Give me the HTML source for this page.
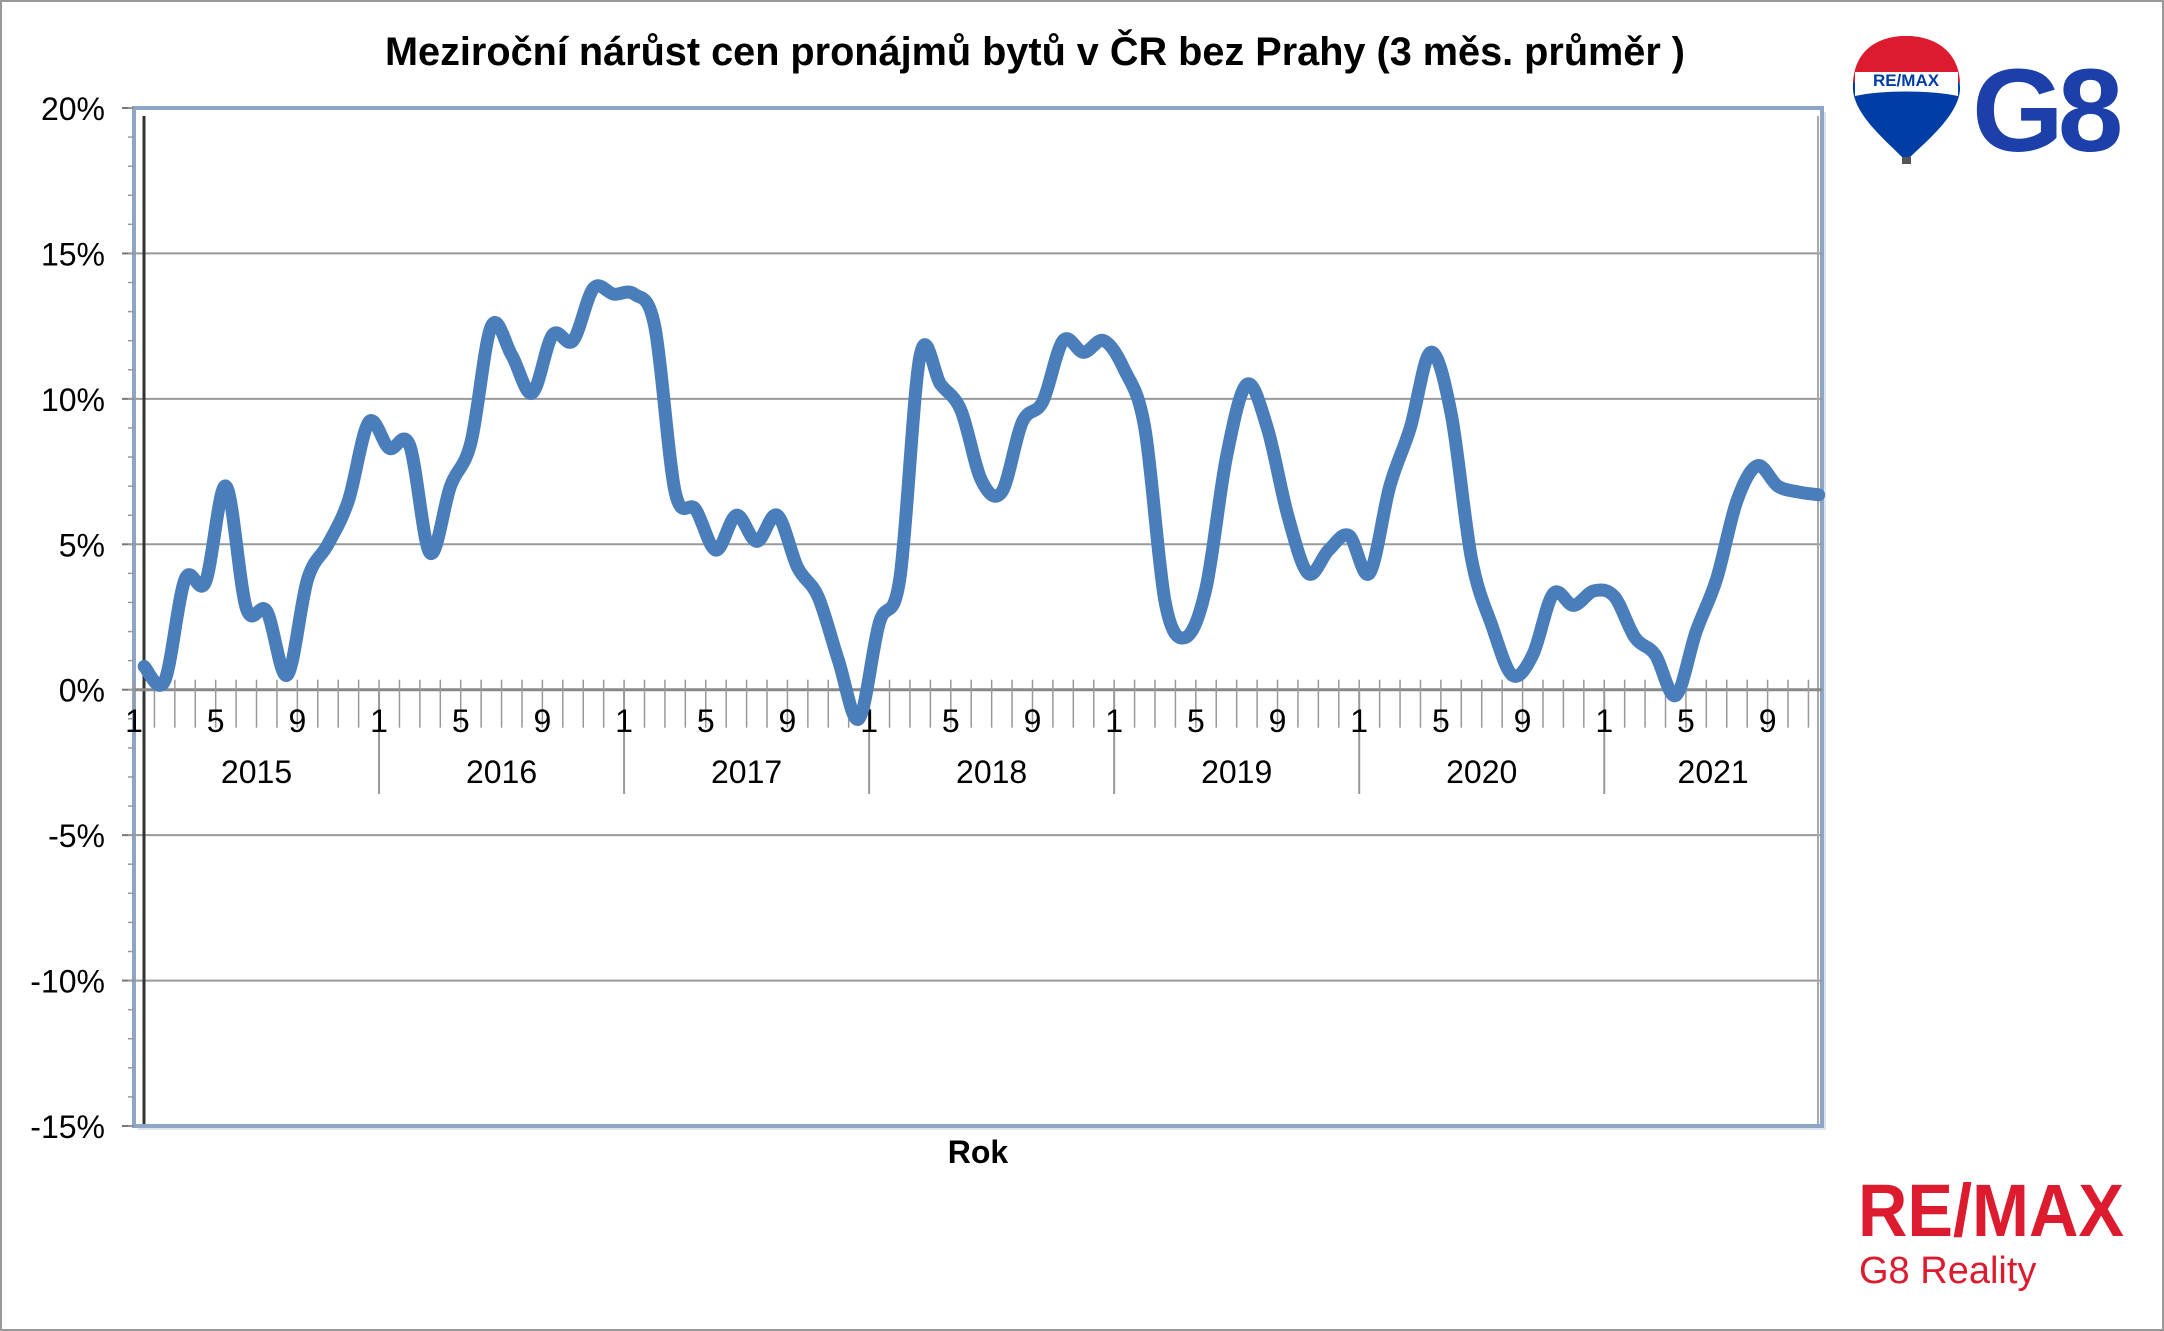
<!DOCTYPE html>
<html><head><meta charset="utf-8"><style>
html,body{margin:0;padding:0;background:#fff}
svg{display:block}
</style></head><body>
<svg width="2164" height="1331" viewBox="0 0 2164 1331" xmlns="http://www.w3.org/2000/svg" font-family="Liberation Sans, Arial, sans-serif">
<rect x="1" y="1" width="2162" height="1329" fill="#fff" stroke="#999" stroke-width="2"/>
<text x="1035" y="65" text-anchor="middle" font-size="40" font-weight="bold" fill="#000" textLength="1300" lengthAdjust="spacingAndGlyphs">Meziroční nárůst cen pronájmů bytů v ČR bez Prahy (3 měs. průměr )</text>
<g id="plot"></g>
<g id="axes"></g>
<path id="series" fill="none" stroke="#4a7ebb" stroke-width="13" stroke-linejoin="round" stroke-linecap="round"/>
<text x="978" y="1163" text-anchor="middle" font-size="32" font-weight="bold">Rok</text>
<g>
<path d="M1906 36 C1870 36 1852 62 1853 90 C1855 115 1885 140 1903 158 L1909 158 C1928 140 1958 115 1960 90 C1961 62 1942 36 1906 36 Z" fill="#003da5"/>
<path d="M1853 82 C1855 50 1878 36 1906 36 C1934 36 1958 50 1960 82 Z" fill="#dc1c2e"/>
<path d="M1855 72 L1958 72 L1958 96 C1930 90 1882 90 1855 96 Z" fill="#fff"/>
<text x="1906" y="86" text-anchor="middle" font-size="17" font-weight="bold" fill="#003da5">RE/MAX</text>
<rect x="1902" y="157" width="9" height="7" fill="#555"/>
</g>
<text x="1972" y="151" font-size="118" font-weight="bold" fill="#1c3faa" letter-spacing="-6">G8</text>
<text x="1858" y="1236" font-size="74" font-weight="bold" fill="#dc1c2e" textLength="266" lengthAdjust="spacingAndGlyphs">RE/MAX</text>
<text x="1859" y="1283" font-size="38" fill="#dc1c2e">G8 Reality</text>
</svg>
<script>
const years = ["2015","2016","2017","2018","2019","2020","2021"];
const yTicks = [20,15,10,5,0,-5,-10,-15];
const yTickLabels = ["20%","15%","10%","5%","0%","-5%","-10%","-15%"];
const monthLabels = ["1","5","9"];
const values = [
0.8,0.3,3.8,3.7,7.0,2.8,2.7,0.5,3.8,5.0,6.5,9.2,
8.3,8.4,4.7,7.0,8.5,12.5,11.5,10.2,12.2,12.0,13.8,13.6,
13.6,12.5,6.8,6.2,4.8,6.0,5.1,6.0,4.2,3.2,1.0,-1.0,
2.3,3.8,11.5,10.5,9.6,7.2,6.8,9.2,9.9,12.0,11.6,12.0,
11.0,9.0,3.0,1.8,3.5,8.0,10.5,9.0,6.0,4.0,4.8,5.3,
4.0,7.0,9.0,11.6,9.5,4.5,2.2,0.5,1.2,3.3,2.9,3.4,
3.2,1.8,1.2,-0.2,2.0,3.8,6.5,7.7,7.0,6.8,6.7];
const NS="http://www.w3.org/2000/svg";
const L=134,R=1822,T=108,B=1126,X0=134,MW=20.42;
const yS=v=>T+(20-v)*(B-T)/35;
const xB=i=>X0+i*MW;
const xC=i=>X0+(i+0.5)*MW;
function mk(t,a,p){const e=document.createElementNS(NS,t);for(const k in a)e.setAttribute(k,a[k]);p.appendChild(e);return e;}
const plot=document.getElementById('plot'),axes=document.getElementById('axes');
let fr=mk('rect',{x:L+4,y:T+4,width:R-L,height:B-T,fill:'#dde4ee'},plot);


let bg=mk('rect',{x:L,y:T,width:R-L,height:B-T,fill:'#fff',stroke:'#8ea6c6','stroke-width':4},plot);


yTicks.forEach((v,i)=>{
 const y=yS(v);
 if(v!==20&&v!==-15&&v!==0){const g=mk('line',{x1:L,x2:R,y1:y,y2:y,stroke:'#999','stroke-width':2},plot);
 
 }
 const t=mk('text',{x:105,y:y+12,'text-anchor':'end','font-size':32},axes);t.textContent=yTickLabels[i];
 
 
 mk('line',{x1:122,x2:L,y1:y,y2:y,stroke:'#777','stroke-width':2},axes);
});
for(let v=-15;v<=20;v++){const y=yS(v);mk('line',{x1:128,x2:L,y1:y,y2:y,stroke:'#999','stroke-width':1.5},axes);}
mk('line',{x1:L+10,x2:L+10,y1:T+8,y2:B-2,stroke:'#333','stroke-width':3},plot);
mk('line',{x1:R-4,x2:R-4,y1:T+8,y2:B-2,stroke:'#aaa','stroke-width':2},plot);
const y0=yS(0);
let ax=mk('line',{x1:L,x2:R,y1:y0,y2:y0,stroke:'#888','stroke-width':3},axes);


const N=years.length*12;
for(let i=0;i<=N;i++){
 const x=xB(i);
 if(x>R)break;
 mk('line',{x1:x,x2:x,y1:y0-10,y2:y0+38,stroke:'#999','stroke-width':1.5},axes);
 const m=i%12;
 if(i%12===0&&i>0){const yl=mk('line',{x1:x,x2:x,y1:y0,y2:794,stroke:'#999','stroke-width':2},axes);
 
 }
 if(m===0||m===4||m===8){if(i<N){const t=mk('text',{x:x,y:732,'text-anchor':'middle','font-size':32},axes);t.textContent=monthLabels[m/4];
 
 }}
}
years.forEach((yr,k)=>{
 const a=xB(k*12),b=Math.min(xB(k*12+12),R);
 const t=mk('text',{x:(a+b)/2,y:783,'text-anchor':'middle','font-size':32},axes);t.textContent=yr;
 
 
});
const pts=values.map((v,i)=>[xC(i),yS(v)]);
let d='M'+pts[0][0]+','+pts[0][1];
for(let i=0;i<pts.length-1;i++){
 const p0=pts[Math.max(0,i-1)],p1=pts[i],p2=pts[i+1],p3=pts[Math.min(pts.length-1,i+2)];
 const c1=[p1[0]+(p2[0]-p0[0])/6,p1[1]+(p2[1]-p0[1])/6],c2=[p2[0]-(p3[0]-p1[0])/6,p2[1]-(p3[1]-p1[1])/6];
 d+=`C${c1[0]},${c1[1]} ${c2[0]},${c2[1]} ${p2[0]},${p2[1]}`;
}
document.getElementById('series').setAttribute('d',d);
</script>
</body></html>
